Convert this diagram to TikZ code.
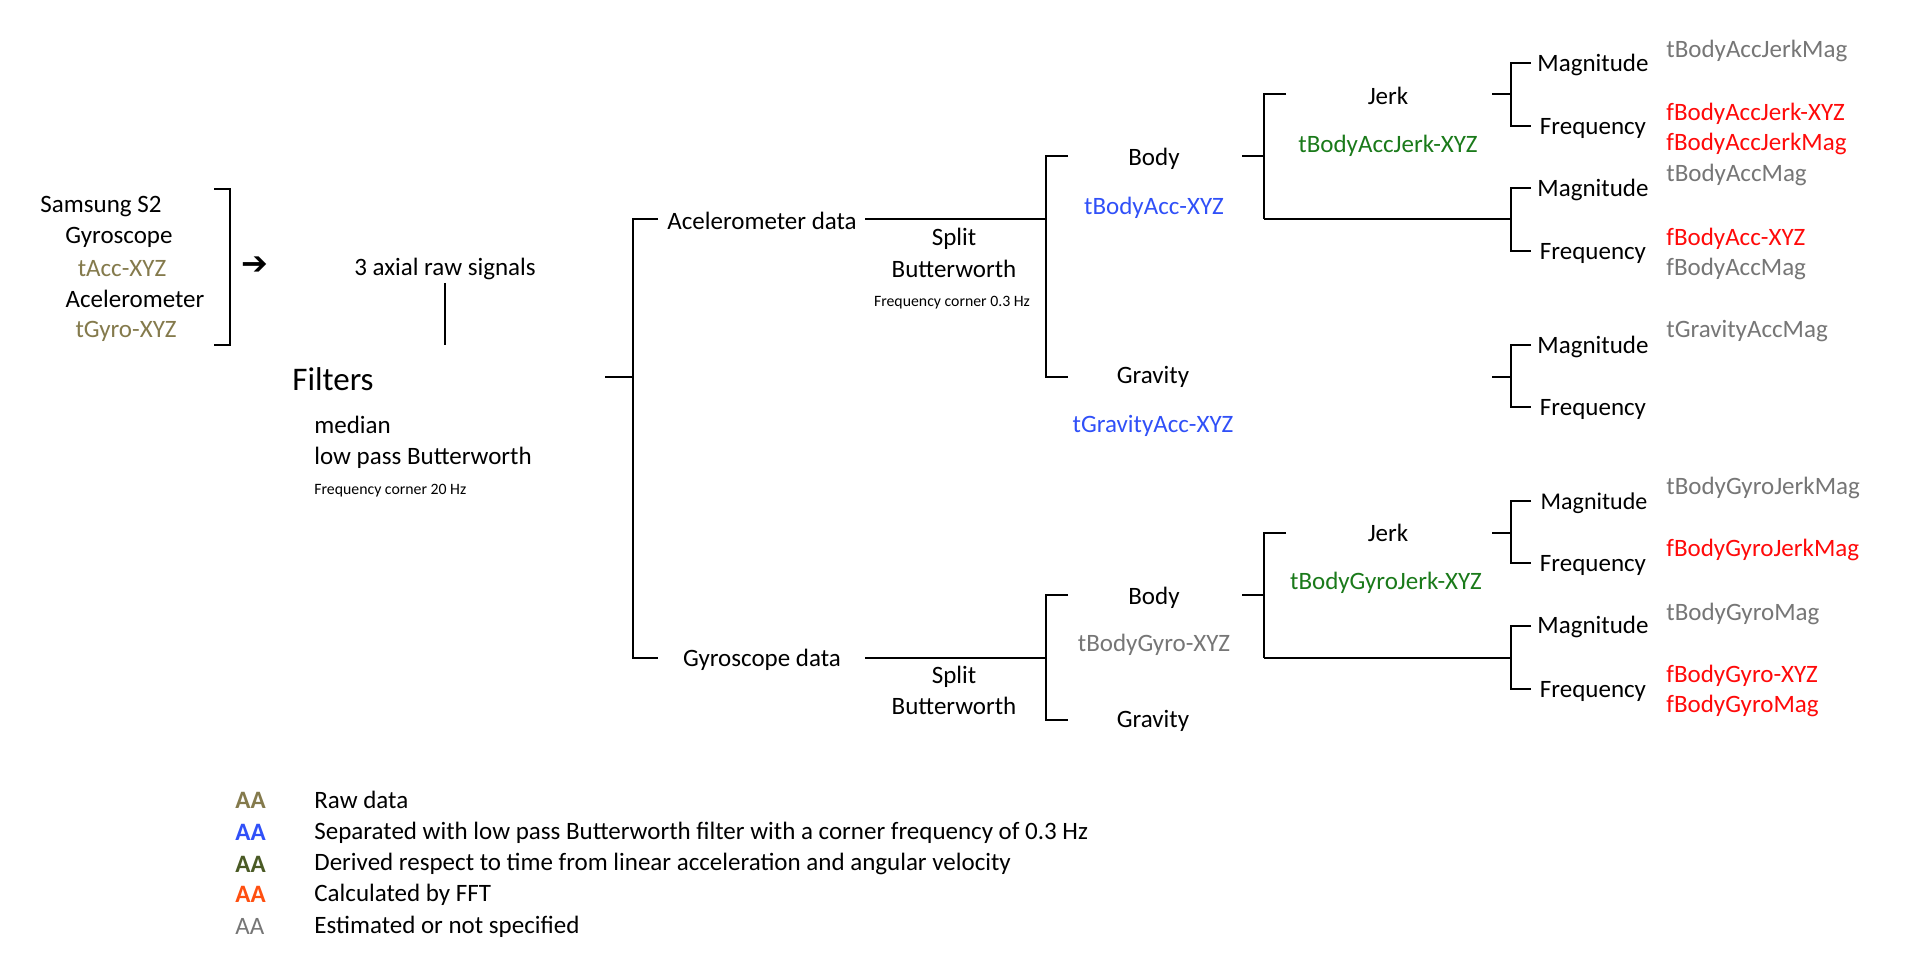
\documentclass[tikz,border=0pt]{standalone}
\usepackage{fontspec}
\setmainfont{Carlito}
\newfontfamily\symfont{DejaVu Sans}
\definecolor{rawc}{HTML}{847A4C}
\definecolor{sepc}{HTML}{3050F8}
\definecolor{derc}{HTML}{4A5A25}
\definecolor{dertxt}{HTML}{1A7A1A}
\definecolor{fftc}{HTML}{FF4F10}
\definecolor{fftxt}{HTML}{FF0A0A}
\definecolor{estc}{HTML}{767676}
\begin{document}
\begin{tikzpicture}[x=0.5pt,y=-0.5pt,
  lbl/.style={inner sep=0pt, yshift=-1.2pt, font=\fontsize{12.5}{15}\selectfont},
  lw/.style={lbl, anchor=west},
  small/.style={inner sep=0pt, yshift=-1pt, font=\fontsize{7.9}{9.5}\selectfont},
  big/.style={inner sep=0pt, yshift=-1.2pt, font=\fontsize{16.5}{20}\selectfont},
  aa/.style={inner sep=0pt, yshift=-1.2pt, anchor=west, font=\fontsize{12.5}{15}\selectfont\bfseries},
  ln/.style={line width=1.1pt}]
\path[fill=white,use as bounding box] (0,0) rectangle (1911,972);

% ---------- left block ----------
\node[lbl] (s2) at (101,204) {Samsung S2};
\node[lbl] (gyr) at (119,235) {Gyroscope};
\node[lbl,text=rawc] (tacc) at (122,266) {tAcc-XYZ};
\node[lbl] (acl) at (135,297) {Acelerometer};
\node[lbl,text=rawc] (tgyro) at (126,329) {tGyro-XYZ};
\coordinate (bt1) at (214,189); \coordinate (bt2) at (230,189);
\coordinate (bb2) at (230,345); \coordinate (bb1) at (214,345);
\draw[ln] (bt1) -- (bt2) -- (bb2) -- (bb1);
\node[inner sep=0pt,font=\symfont\fontsize{16}{18}\selectfont] (arr) at (255,266) {➔};

\node[lbl] (raw) at (445,267) {3 axial raw signals};
\coordinate (rl1) at (445,283); \coordinate (rl2) at (445,345);
\draw[ln] (rl1) -- (rl2);
\node[big] (filt) at (333,377) {Filters};
\node[lw] (med) at (314,423) {median};
\node[lw] (lpb) at (314,455) {low pass Butterworth};
\node[small,anchor=west] (fc20) at (314,489) {Frequency corner 20 Hz};

% main split
\coordinate (ft) at (605,377); \coordinate (fj) at (633,377);
\coordinate (mt) at (633,219); \coordinate (mb) at (633,658);
\coordinate (mtt) at (658,219); \coordinate (mbt) at (658,658);
\draw[ln] (ft) -- (fj);
\draw[ln] (mtt) -- (mt) -- (mb) -- (mbt);

% ---------- accelerometer ----------
\node[lbl] (accd) at (762,219) {Acelerometer data};
\node[lbl] (spl1) at (954,236) {Split};
\node[lbl] (bw1) at (954,267) {Butterworth};
\node[small] (fc03) at (952,301) {Frequency corner 0.3 Hz};
\coordinate (al) at (865,219); \coordinate (aj) at (1046,219);
\draw[ln] (al) -- (aj);
\coordinate (av1) at (1046,156); \coordinate (av2) at (1046,377);
\coordinate (av1t) at (1068,156); \coordinate (av2t) at (1068,377);
\draw[ln] (av1t) -- (av1) -- (av2) -- (av2t);
\node[lbl] (body1) at (1154,156) {Body};
\node[lbl,text=sepc] (tba) at (1154,205) {tBodyAcc-XYZ};
\node[lbl] (grav1) at (1153,375) {Gravity};
\node[lbl,text=sepc] (tga) at (1153,424) {tGravityAcc-XYZ};

\coordinate (b1t) at (1242,156); \coordinate (b1j) at (1264,156);
\coordinate (b1v1) at (1264,94); \coordinate (b1v2) at (1264,219);
\coordinate (b1v1t) at (1286,94);
\draw[ln] (b1t) -- (b1j);
\draw[ln] (b1v1t) -- (b1v1) -- (b1v2);
\node[lbl] (jerk1) at (1388,94) {Jerk};
\node[lbl,text=dertxt] (tbaj) at (1388,143) {tBodyAccJerk-XYZ};

\coordinate (j1t) at (1492,94); \coordinate (j1j) at (1511,94);
\coordinate (j1a) at (1511,63); \coordinate (j1b) at (1511,126);
\coordinate (j1at) at (1531,63); \coordinate (j1bt) at (1531,126);
\draw[ln] (j1t) -- (j1j);
\draw[ln] (j1at) -- (j1a) -- (j1b) -- (j1bt);
\node[lbl] (m1) at (1593,63) {Magnitude};
\node[lbl] (f1) at (1593,126) {Frequency};

\coordinate (k1j) at (1511,219);
\coordinate (k1a) at (1511,188); \coordinate (k1b) at (1511,251);
\coordinate (k1at) at (1531,188); \coordinate (k1bt) at (1531,251);
\draw[ln] (b1v2) -- (k1j);
\draw[ln] (k1at) -- (k1a) -- (k1b) -- (k1bt);
\node[lbl] (m2) at (1593,188) {Magnitude};
\node[lbl] (f2) at (1593,251) {Frequency};

\coordinate (g1t) at (1492,377); \coordinate (g1j) at (1511,377);
\coordinate (g1a) at (1511,345); \coordinate (g1b) at (1511,407);
\coordinate (g1at) at (1531,345); \coordinate (g1bt) at (1531,407);
\draw[ln] (g1t) -- (g1j);
\draw[ln] (g1at) -- (g1a) -- (g1b) -- (g1bt);
\node[lbl] (m3) at (1593,345) {Magnitude};
\node[lbl] (f3) at (1593,407) {Frequency};

\node[lw,text=estc] (r1) at (1666,49) {tBodyAccJerkMag};
\node[lw,text=fftxt] (r2) at (1666,111) {fBodyAccJerk-XYZ};
\node[lw,text=fftxt] (r3) at (1666,142) {fBodyAccJerkMag};
\node[lw,text=estc] (r4) at (1666,173) {tBodyAccMag};
\node[lw,text=fftxt] (r5) at (1666,236) {fBodyAcc-XYZ};
\node[lw,text=estc] (r6) at (1666,267) {fBodyAccMag};
\node[lw,text=estc] (r7) at (1666,329) {tGravityAccMag};

% ---------- gyroscope ----------
\node[lbl] (gyd) at (762,657) {Gyroscope data};
\node[lbl] (spl2) at (954,674) {Split};
\node[lbl] (bw2) at (954,704) {Butterworth};
\coordinate (gl) at (865,658); \coordinate (gj) at (1046,658);
\draw[ln] (gl) -- (gj);
\coordinate (gv1) at (1046,595); \coordinate (gv2) at (1046,720);
\coordinate (gv1t) at (1068,595); \coordinate (gv2t) at (1068,720);
\draw[ln] (gv1t) -- (gv1) -- (gv2) -- (gv2t);
\node[lbl] (body2) at (1154,595) {Body};
\node[lbl,text=estc] (tbg) at (1154,642) {tBodyGyro-XYZ};
\node[lbl] (grav2) at (1153,719) {Gravity};

\coordinate (b2t) at (1242,595); \coordinate (b2j) at (1264,595);
\coordinate (b2v1) at (1264,533); \coordinate (b2v2) at (1264,658);
\coordinate (b2v1t) at (1286,533);
\draw[ln] (b2t) -- (b2j);
\draw[ln] (b2v1t) -- (b2v1) -- (b2v2);
\node[lbl] (jerk2) at (1388,531) {Jerk};
\node[lbl,text=dertxt] (tbgj) at (1386,580) {tBodyGyroJerk-XYZ};

\coordinate (j2t) at (1492,533); \coordinate (j2j) at (1511,533);
\coordinate (j2a) at (1511,501); \coordinate (j2b) at (1511,563);
\coordinate (j2at) at (1531,501); \coordinate (j2bt) at (1531,563);
\draw[ln] (j2t) -- (j2j);
\draw[ln] (j2at) -- (j2a) -- (j2b) -- (j2bt);
\node[lbl,font=\fontsize{12}{14}\selectfont] (m4) at (1594,501) {Magnitude};
\node[lbl] (f4) at (1593,563) {Frequency};

\coordinate (k2j) at (1511,658);
\coordinate (k2a) at (1511,626); \coordinate (k2b) at (1511,689);
\coordinate (k2at) at (1531,626); \coordinate (k2bt) at (1531,689);
\draw[ln] (b2v2) -- (k2j);
\draw[ln] (k2at) -- (k2a) -- (k2b) -- (k2bt);
\node[lbl] (m5) at (1593,625) {Magnitude};
\node[lbl] (f5) at (1593,689) {Frequency};

\node[lw,text=estc] (r8) at (1666,486) {tBodyGyroJerkMag};
\node[lw,text=fftxt] (r9) at (1666,548) {fBodyGyroJerkMag};
\node[lw,text=estc] (r10) at (1666,612) {tBodyGyroMag};
\node[lw,text=fftxt] (r11) at (1666,673) {fBodyGyro-XYZ};
\node[lw,text=fftxt] (r12) at (1666,704) {fBodyGyroMag};

% ---------- legend ----------
\node[aa,text=rawc] (aa1) at (235,798) {AA};
\node[aa,text=sepc] (aa2) at (235,830) {AA};
\node[aa,text=derc] (aa3) at (235,862) {AA};
\node[aa,text=fftc] (aa4) at (235,892) {AA};
\node[aa,text=estc,font=\fontsize{12.5}{15}\selectfont] (aa5) at (235,924) {AA};
\node[lw] (lg1) at (314,798) {Raw data};
\node[lw] (lg2) at (314,830) {Separated with low pass Butterworth filter with a corner frequency of 0.3 Hz};
\node[lw] (lg3) at (314,862) {Derived respect to time from linear acceleration and angular velocity};
\node[lw] (lg4) at (314,892) {Calculated by FFT};
\node[lw] (lg5) at (314,924) {Estimated or not specified};
\end{tikzpicture}
\end{document}
